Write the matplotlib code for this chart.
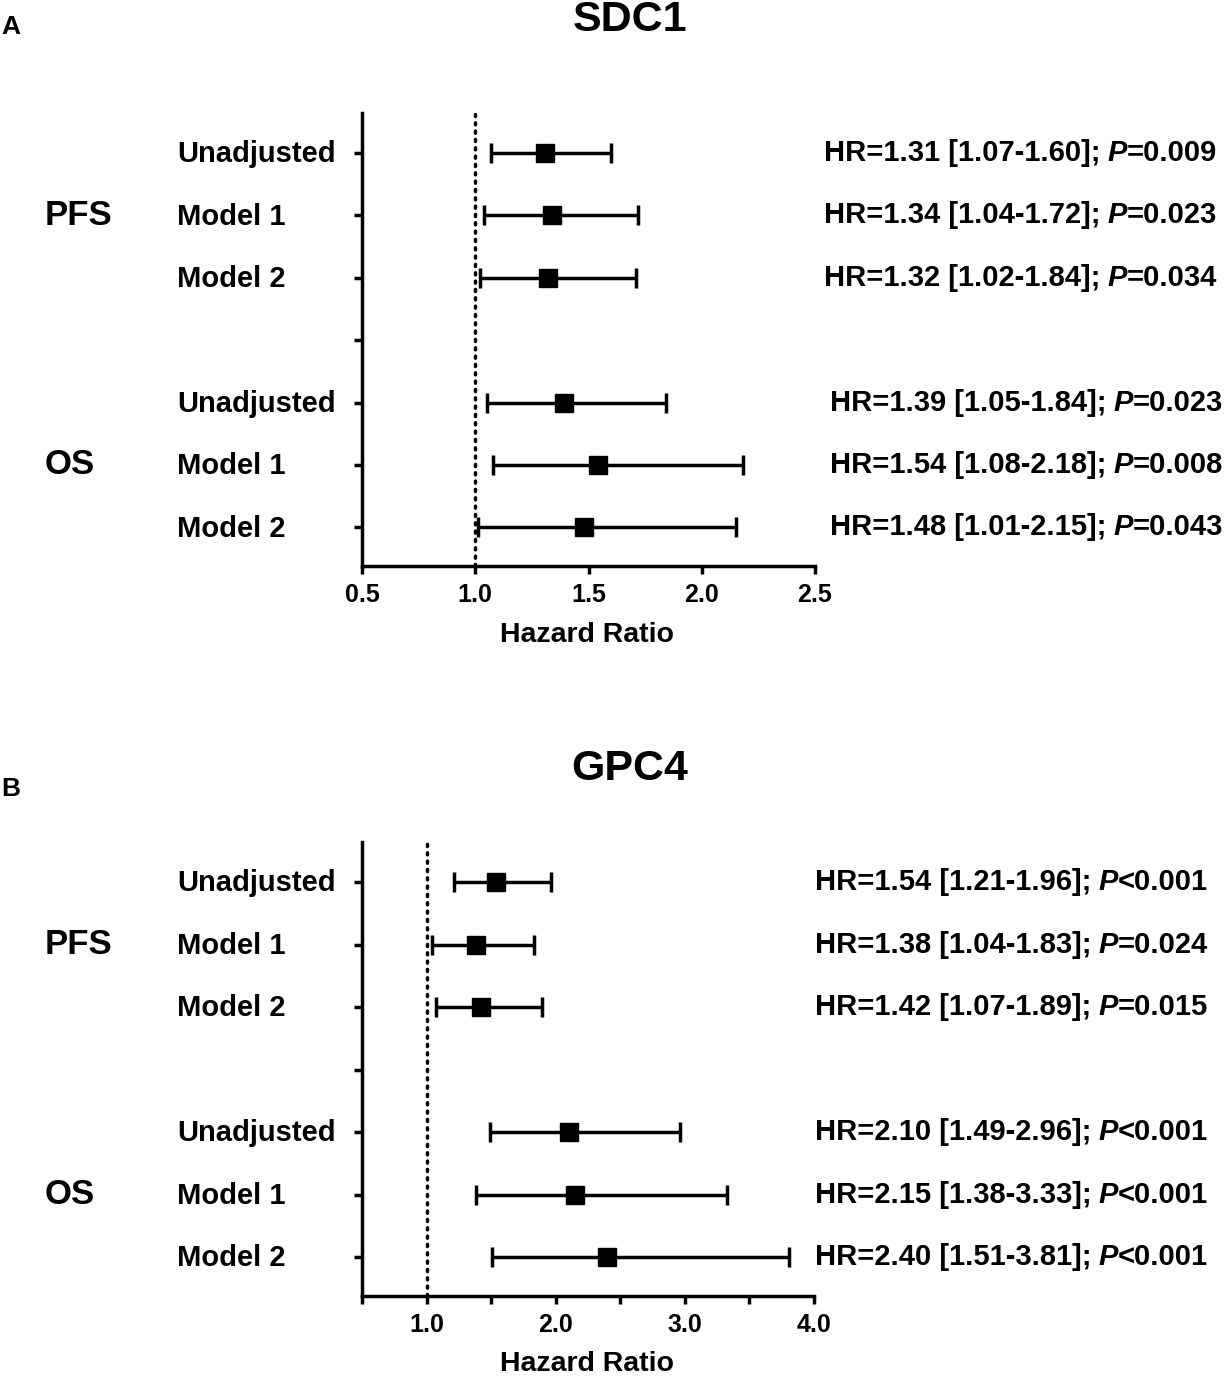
import matplotlib
matplotlib.use('Agg')
import matplotlib.pyplot as plt
import matplotlib.transforms as mtransforms
import numpy as np

plt.rcParams['font.family'] = ['Liberation Sans', 'DejaVu Sans']
plt.rcParams['font.weight'] = 'bold'

# ---------------- data ----------------
row_labels = ["Unadjusted", "Model 1", "Model 2", "Unadjusted", "Model 1", "Model 2"]
group_labels = ["PFS", "OS"]

sdc1_hr = [1.31, 1.34, 1.32, 1.39, 1.54, 1.48]
sdc1_lo = [1.07, 1.04, 1.02, 1.05, 1.08, 1.01]
sdc1_hi = [1.60, 1.72, 1.71, 1.84, 2.18, 2.15]   # drawn bar ends as seen in the figure
sdc1_ci_text = ["1.07-1.60", "1.04-1.72", "1.02-1.84", "1.05-1.84", "1.08-2.18", "1.01-2.15"]
sdc1_p = ["=0.009", "=0.023", "=0.034", "=0.023", "=0.008", "=0.043"]

gpc4_hr = [1.54, 1.38, 1.42, 2.10, 2.15, 2.40]
gpc4_lo = [1.21, 1.04, 1.07, 1.49, 1.38, 1.51]
gpc4_hi = [1.96, 1.83, 1.89, 2.96, 3.33, 3.81]
gpc4_ci_text = ["1.21-1.96", "1.04-1.83", "1.07-1.89", "1.49-2.96", "1.38-3.33", "1.51-3.81"]
gpc4_p = ["<0.001", "=0.024", "=0.015", "<0.001", "<0.001", "<0.001"]

sdc1_xticks = [0.5, 1.0, 1.5, 2.0, 2.5]
sdc1_xticklabels = ["0.5", "1.0", "1.5", "2.0", "2.5"]
gpc4_xticks = [0.5, 1.0, 1.5, 2.0, 2.5, 3.0, 3.5, 4.0]
gpc4_xticklabels = ["", "1.0", "", "2.0", "", "3.0", "", "4.0"]

# ---------------- layout ----------------
W, H = 1225, 1377
fig = plt.figure(figsize=(W / 100, H / 100), dpi=100)

row_y = [7, 6, 5, 3, 2, 1]
group_y = [6, 2]

panels = [
    dict(letter="A", title="SDC1", hr=sdc1_hr, lo=sdc1_lo, hi=sdc1_hi, ci=sdc1_ci_text, p=sdc1_p,
         xlim=(0.5, 2.5), xticks=sdc1_xticks, xtl=sdc1_xticklabels,
         rect=[362, 113, 815, 566], title_y=20, letter_y=27, xlabel_y=635,
         text_right=[1217, 1217, 1217, 1223, 1223, 1223]),
    dict(letter="B", title="GPC4", hr=gpc4_hr, lo=gpc4_lo, hi=gpc4_hi, ci=gpc4_ci_text, p=gpc4_p,
         xlim=(0.5, 4.0), xticks=gpc4_xticks, xtl=gpc4_xticklabels,
         rect=[362, 842, 814, 1296], title_y=769, letter_y=789, xlabel_y=1364,
         text_right=[1208] * 6),
]

LW = 2.5
hr_texts = []
for pn in panels:
    l, t, r, b = pn["rect"]
    ax = fig.add_axes([l / W, 1 - b / H, (r - l) / W, (b - t) / H])
    hr = np.array(pn["hr"]); lo = np.array(pn["lo"]); hi = np.array(pn["hi"])
    ax.axvline(1.0, color='black', ls=(0, (0.6, 1.8)), lw=LW, zorder=1,
               dash_capstyle='round')
    ax.errorbar(hr, row_y, xerr=[hr - lo, hi - hr], fmt='s', color='black',
                ms=13.5, elinewidth=LW, capsize=7.5, capthick=LW, zorder=3)
    ax.set_xlim(*pn["xlim"])
    ax.set_ylim(0.38, 7.64)
    ax.set_xticks(pn["xticks"])
    ax.set_xticklabels(pn["xtl"], fontsize=18, fontweight='bold')
    ax.set_yticks([7, 6, 5, 4, 3, 2, 1])
    ax.set_yticklabels([])
    for s in ['top', 'right']:
        ax.spines[s].set_visible(False)
    for s in ['left', 'bottom']:
        ax.spines[s].set_linewidth(LW)
    ax.tick_params(axis='both', width=LW, length=5.5, color='black')
    ax.tick_params(axis='x', pad=7)

    trans = mtransforms.blended_transform_factory(fig.transFigure, ax.transData)
    for g, gy in zip(group_labels, group_y):
        ax.text(45 / W, gy, g, transform=trans, ha='left', va='center',
                fontsize=25, fontweight='bold')
    for lab, yy in zip(row_labels, row_y):
        ax.text(177 / W, yy - 0.02, lab, transform=trans, ha='left', va='center',
                fontsize=21, fontweight='bold')

    fig.text(630 / W, 1 - pn["title_y"] / H, pn["title"], ha='center', va='center',
             fontsize=31, fontweight='bold')
    fig.text(1 / W, 1 - pn["letter_y"] / H, pn["letter"], ha='left', va='center',
             fontsize=19, fontweight='bold')
    fig.text(587 / W, 1 - pn["xlabel_y"] / H, "Hazard Ratio", ha='center', va='center',
             fontsize=20.5, fontweight='bold')

    for i in range(6):
        hr_texts.append((ax, trans, pn["text_right"][i], row_y[i],
                         "HR=%.2f [%s];" % (pn["hr"][i], pn["ci"][i]), pn["p"][i]))

fig.canvas.draw()
renderer = fig.canvas.get_renderer()
for ax, trans, xr, y, prefix, pval in hr_texts:
    t3 = ax.text(xr / W, y, pval, transform=trans, ha='right', va='center',
                 fontsize=21, fontweight='bold')
    bb = t3.get_window_extent(renderer)
    t2 = ax.text(bb.x0 / W, y, "P", transform=trans, ha='right', va='center',
                 fontsize=21, fontweight='bold', fontstyle='italic')
    bb2 = t2.get_window_extent(renderer)
    ax.text((bb2.x0 - 7) / W, y, prefix, transform=trans, ha='right', va='center',
            fontsize=21, fontweight='bold')

fig.savefig("out.png", dpi=100)
